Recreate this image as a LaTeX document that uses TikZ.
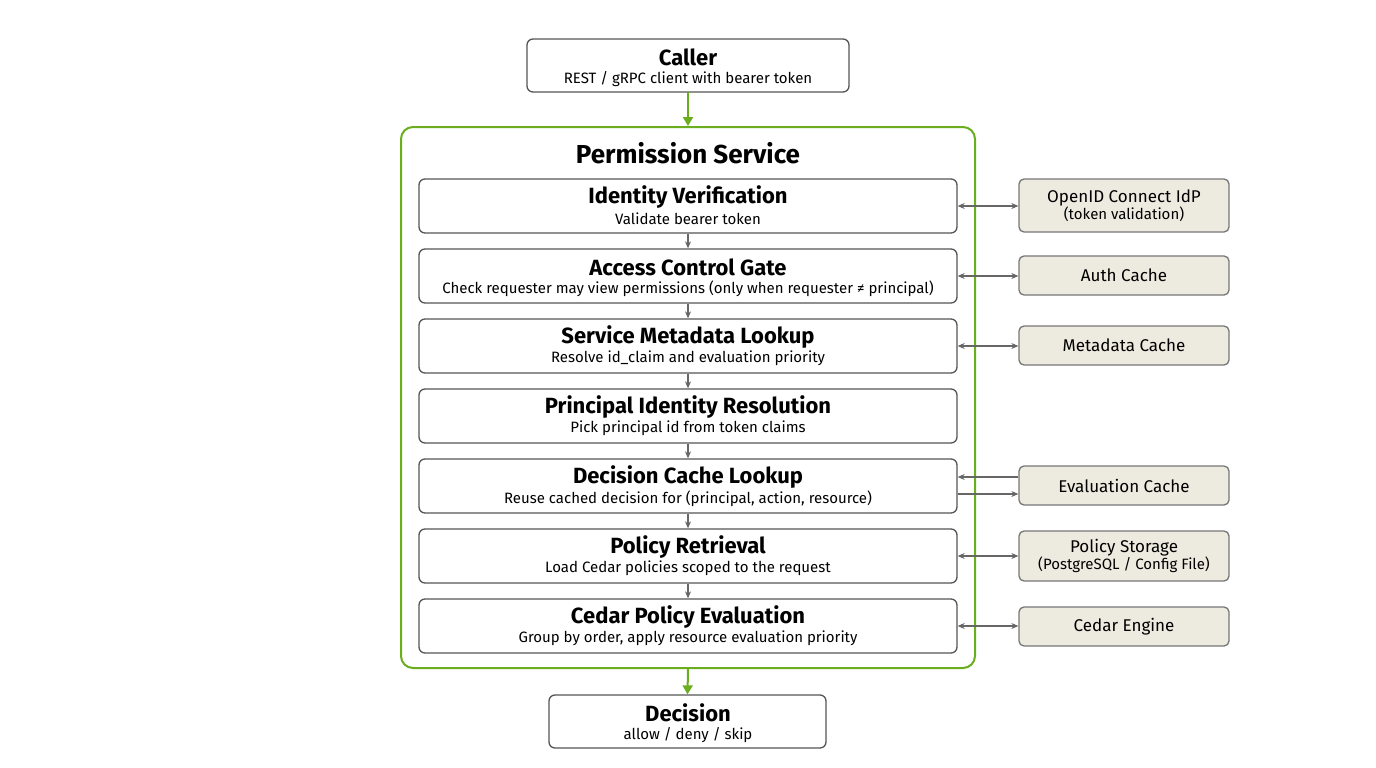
\documentclass[tikz,border=0pt]{standalone}
\usepackage{fontspec}
\setmainfont{Fira Sans}
\usetikzlibrary{arrows.meta}
\definecolor{grn}{HTML}{6AAE1E}
\definecolor{bd}{HTML}{555555}
\definecolor{sidefill}{HTML}{EDEBE0}
\begin{document}
\begin{tikzpicture}[x=1pt,y=-1pt,
  stepbox/.style={draw=bd,line width=1.3pt,rounded corners=6pt,fill=white},
  sidebox/.style={draw=bd!80,line width=1.3pt,rounded corners=5pt,fill=sidefill,align=center,font=\fontsize{17}{19}\selectfont},
  ttl/.style={font=\fontsize{22}{24}\selectfont\bfseries},
  sub/.style={font=\fontsize{15}{17}\selectfont},
  ga/.style={-{Stealth[length=7pt,width=6pt]},draw=bd!90,line width=1.1pt},
  da/.style={{Stealth[length=7pt,width=6pt]}-{Stealth[length=7pt,width=6pt]},draw=bd!90,line width=1.1pt},
  gra/.style={-{Triangle[length=9pt,width=10pt]},draw=grn,line width=2pt}]
\useasboundingbox (0,0) rectangle (1376,768);
\fill[white] (0,0) rectangle (1376,768);
% caller
\draw[stepbox] (527,39) rectangle (849,92);
\node (caller) at (688,65.5) [minimum width=322pt,minimum height=53pt] {};
\node[ttl] at (688,57) {Caller};
\node[sub] at (688,79) {REST / gRPC client with bearer token};
% container
\node (ps) at (688,397.5) [draw=grn,line width=2pt,rounded corners=12pt,minimum width=574pt,minimum height=541pt] {};
\node[font=\fontsize{26}{28}\selectfont\bfseries] at (688,153) {Permission Service};
% steps
\foreach \n/\y/\t/\s in {s1/179/Identity Verification/Validate bearer token,
 s2/249/Access Control Gate/Check requester may view permissions (only when requester ≠ principal),
 s3/319/Service Metadata Lookup/Resolve id\_claim and evaluation priority,
 s4/389/Principal Identity Resolution/Pick principal id from token claims,
 s5/459/Decision Cache Lookup/{Reuse cached decision for (principal, action, resource)},
 s6/529/Policy Retrieval/Load Cedar policies scoped to the request,
 s7/599/Cedar Policy Evaluation/{Group by order, apply resource evaluation priority}}{
  \node[stepbox,minimum width=538pt,minimum height=54pt] (\n) at (688,\y+27) {};
  \node[ttl] at (688,\y+18) {\t};
  \node[sub] at (688,\y+39.5) {\s};
}
\foreach \a/\b in {s1/s2,s2/s3,s3/s4,s4/s5,s5/s6,s6/s7}{\draw[ga] (\a.south) -- (\b.north);}
% side boxes
\node[sidebox,minimum width=210pt,minimum height=53pt] (idp) at (1124,205.5) {OpenID Connect IdP\\[-2pt]{\fontsize{15}{17}\selectfont (token validation)}};
\node[sidebox,minimum width=210pt,minimum height=39pt] (auth) at (1124,275.5) {Auth Cache};
\node[sidebox,minimum width=210pt,minimum height=39pt] (meta) at (1124,345.5) {Metadata Cache};
\node[sidebox,minimum width=210pt,minimum height=39pt] (eval) at (1124,485.5) {Evaluation Cache};
\node[sidebox,minimum width=210pt,minimum height=50pt] (pst) at (1124,556) {Policy Storage\\[-2pt]{\fontsize{15}{17}\selectfont (PostgreSQL / Config File)}};
\node[sidebox,minimum width=210pt,minimum height=39pt] (ced) at (1124,626.5) {Cedar Engine};
\draw[da] (s1.east) -- (idp.west|-s1.east);
\draw[da] (s2.east) -- (auth.west|-s2.east);
\draw[da] (s3.east) -- (meta.west|-s3.east);
\draw[ga] ([yshift=-8pt]s5.east) -- ([yshift=-8pt]eval.west|-s5.east);
\draw[ga] ([yshift=9pt]eval.west|-s5.east) -- ([yshift=9pt]s5.east);
\draw[da] (s6.east) -- (pst.west|-s6.east);
\draw[da] (s7.east) -- (ced.west|-s7.east);
% decision
\node[stepbox,minimum width=277pt,minimum height=53pt] (dec) at (687.5,721.5) {};
\node[ttl] at (688,713) {Decision};
\node[sub] at (688,735) {allow / deny / skip};
\draw[gra] (caller.south) -- (ps.north);
\draw[gra] (ps.south) -- (dec.north);
\end{tikzpicture}
\end{document}
